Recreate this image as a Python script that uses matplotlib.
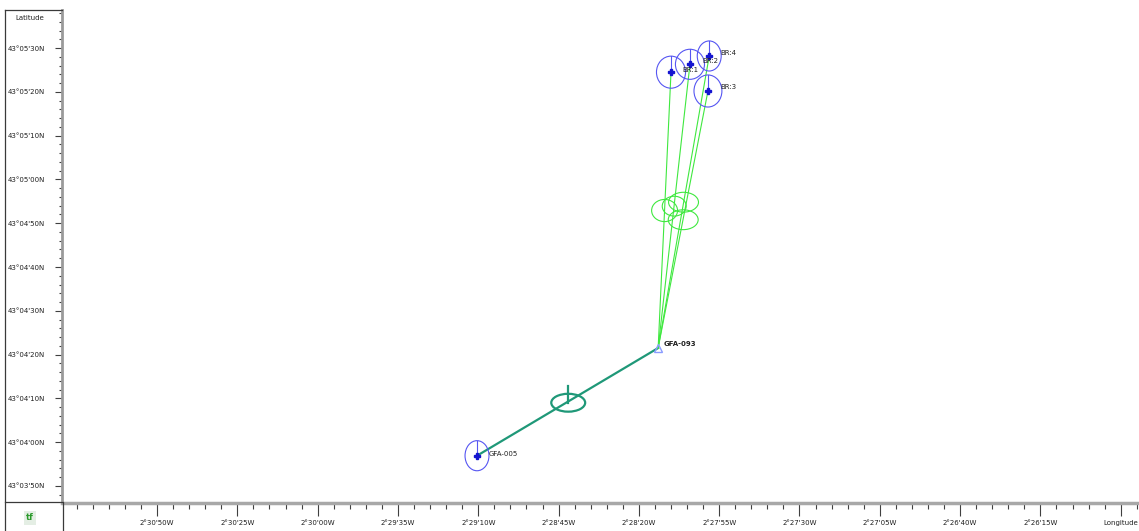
import numpy as np
import matplotlib
matplotlib.use("Agg")
import matplotlib.pyplot as plt
from matplotlib.patches import Ellipse
from matplotlib.lines import Line2D
from matplotlib.ticker import FixedLocator, FuncFormatter

# stations, (deg, min, sec); longitudes are west
stations = ["GFA-005", "GFA-093", "BR:1", "BR:2", "BR:4", "BR:3"]
st_lon = [(2, 29, 10.4), (2, 28, 14.0), (2, 28, 10.0), (2, 28, 4.1), (2, 27, 58.1), (2, 27, 58.5)]
st_lat = [(43, 3, 56.9), (43, 4, 21.5), (43, 5, 24.5), (43, 5, 26.3), (43, 5, 28.2), (43, 5, 20.2)]
# error ellipse semi-axes in metres (GFA-093 is the fixed point)
st_ell_a = [84, 0, 102, 102, 84, 98]
st_ell_b = [106, 0, 113, 106, 106, 113]

# baselines and their mid-point ellipses
base_from = ["GFA-005", "GFA-093", "GFA-093", "GFA-093", "GFA-093"]
base_to = ["GFA-093", "BR:1", "BR:2", "BR:4", "BR:3"]
base_mid_lon = [(2, 28, 42.0), (2, 28, 12.0), (2, 28, 9.0), (2, 28, 6.1), (2, 28, 6.2)]
base_mid_lat = [(43, 4, 9.0), (43, 4, 52.9), (43, 4, 53.9), (43, 4, 54.8), (43, 4, 50.8)]
base_ell_a = [119, 91, 84, 105, 105]
base_ell_b = [63, 78, 70, 70, 70]

W, H = 1139, 531
M_LAT = 30.87            # metres per arc second of latitude
M_LON = 30.87 * np.cos(np.radians(43.07))

BLUE = "#5656f2"
GREEN = "#3fe83f"
TEAL = "#1f9878"


def to_deg(dms, west=False):
    v = dms[0] + dms[1] / 60 + dms[2] / 3600
    return -v if west else v


def fx(px):
    return px / W


def fy(py):
    return 1 - py / H


lon = {n: to_deg(d, True) for n, d in zip(stations, st_lon)}
lat = {n: to_deg(d) for n, d in zip(stations, st_lat)}

fig = plt.figure(figsize=(W / 100, H / 100), dpi=100)
ax = fig.add_axes([fx(62), fy(503), fx(1139) - fx(62), fy(10) - fy(503)])

# baselines
for i, (a, b) in enumerate(zip(base_from, base_to)):
    col = TEAL if i == 0 else GREEN
    lw = 1.6 if i == 0 else 0.8
    ax.plot([lon[a], lon[b]], [lat[a], lat[b]], color=col, lw=lw, zorder=2)
    mx = to_deg(base_mid_lon[i], True)
    my = to_deg(base_mid_lat[i])
    w = 2 * base_ell_a[i] / M_LON / 3600
    h = 2 * base_ell_b[i] / M_LAT / 3600
    ax.add_patch(Ellipse((mx, my), w, h, fill=False, ec=col, lw=lw, zorder=3))
    if i == 0:
        ax.plot([mx, mx], [my, my + 120 / M_LAT / 3600], color=col, lw=lw, zorder=3)

# station ellipses and markers
for n, a, b in zip(stations, st_ell_a, st_ell_b):
    if a > 0:
        w = 2 * a / M_LON / 3600
        h = 2 * b / M_LAT / 3600
        ax.add_patch(Ellipse((lon[n], lat[n]), w, h, fill=False, ec=BLUE, lw=0.8, zorder=4))
        ax.plot([lon[n], lon[n]], [lat[n], lat[n] + h / 2], color=BLUE, lw=0.8, zorder=4)
        ax.plot(lon[n], lat[n], marker="P", ms=4.5, color="#1414d0", mec="#1414d0", zorder=5)
    else:
        ax.plot(lon[n], lat[n], marker="^", ms=6, mfc="none", mec="#8a9cff", mew=1.0, zorder=5)

label_off = {"GFA-005": (12, 2), "GFA-093": (5, 4), "BR:1": (11, 2),
             "BR:2": (12, 3), "BR:4": (11, 3), "BR:3": (12, 4)}
for n in stations:
    ax.annotate(n, (lon[n], lat[n]), xytext=label_off[n], textcoords="offset pixels",
                ha="left", va="center", fontsize=5, color="#202020",
                fontweight="bold" if n == "GFA-093" else "normal", zorder=6)

# axis limits (arc seconds)
x0, x1 = -9079.6 / 3600, -8744.3 / 3600
y0, y1 = 155026.1 / 3600, 155138.7 / 3600
ax.set_xlim(x0, x1)
ax.set_ylim(y0, y1)


def dms_label(v, hemi):
    s = int(round(abs(v) * 3600))
    d, rem = divmod(s, 3600)
    m, sec = divmod(rem, 60)
    return f"{d}°{m:02d}'{sec:02d}{hemi}"


lon_major = [-(9050 - 25 * k) / 3600 for k in range(13)]
lon_minor = [-(9080 - 5 * k) / 3600 for k in range(68)]
lat_major = [(155030 + 10 * k) / 3600 for k in range(11)]
lat_minor = [(155026 + 2 * k) / 3600 for k in range(57)]

ax.xaxis.set_major_locator(FixedLocator(lon_major))
ax.xaxis.set_minor_locator(FixedLocator(lon_minor))
ax.yaxis.set_major_locator(FixedLocator(lat_major))
ax.yaxis.set_minor_locator(FixedLocator(lat_minor))
ax.xaxis.set_major_formatter(FuncFormatter(
    lambda v, p: "Longitude" if abs(v * 3600 + 8750) < 0.5 else dms_label(v, "W")))
ax.yaxis.set_major_formatter(FuncFormatter(lambda v, p: dms_label(v, "N")))

ax.tick_params(axis="x", which="major", direction="out", length=9.5, width=0.8,
               color="#404040", labelsize=5, pad=3, labelcolor="#202020")
ax.tick_params(axis="x", which="minor", direction="out", length=4.3, width=0.8, color="#404040")
ax.tick_params(axis="y", which="major", direction="out", length=5, width=0.8,
               color="#404040", labelsize=5, pad=7, labelcolor="#202020")
ax.tick_params(axis="y", which="minor", direction="out", length=2.2, width=0.8, color="#404040")

for s in ["top", "right"]:
    ax.spines[s].set_visible(False)
ax.spines["left"].set_color("#9a9a9a")
ax.spines["left"].set_linewidth(2)
ax.spines["bottom"].set_color("#a8a8a8")
ax.spines["bottom"].set_linewidth(2.5)

# panel frames
frame = dict(color="#3a3a3a", lw=0.9, transform=fig.transFigure)
fig.add_artist(Line2D([fx(5), fx(62)], [fy(10), fy(10)], **frame))
fig.add_artist(Line2D([fx(5), fx(5)], [fy(10), fy(531)], **frame))
fig.add_artist(Line2D([fx(5), fx(62)], [fy(502), fy(502)], **frame))
fig.add_artist(Line2D([fx(63), fx(63)], [fy(502), fy(531)], **frame))

fig.text(fx(30), fy(18), "Latitude", fontsize=5, ha="center", va="center", color="#202020")
fig.text(fx(30), fy(518), "tf", fontsize=6, ha="center", va="center", color="#2a9a2a",
         fontweight="bold", bbox=dict(boxstyle="square,pad=0.25", fc="#e4eee4", ec="none"))

fig.savefig("out.png", dpi=100)
